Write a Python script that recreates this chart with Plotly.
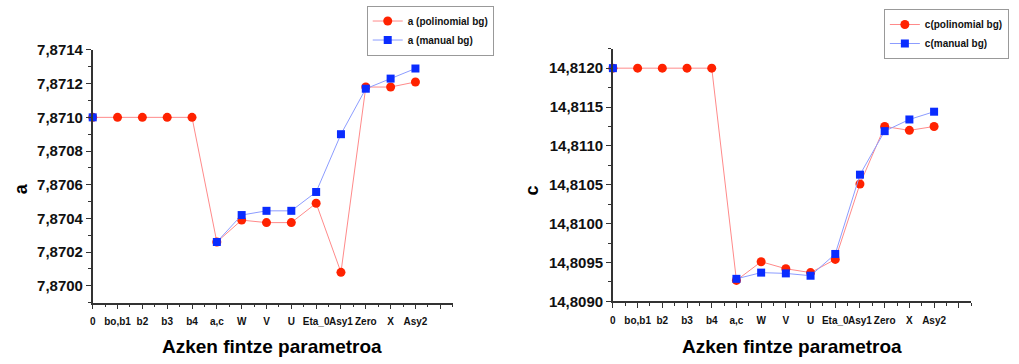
import plotly.graph_objects as go

# Refinement parameters on the x axis
categories = ["0", "bo,b1", "b2", "b3", "b4", "a,c", "W", "V", "U",
              "Eta_0", "Asy1", "Zero", "X", "Asy2"]

# Lattice parameter a
a_polinomial = [7.8710, 7.8710, 7.8710, 7.8710, 7.8710, 7.87026, 7.87039,
                7.870375, 7.870375, 7.87049, 7.87008, 7.87118, 7.87118, 7.87121]
a_manual = [7.8710, None, None, None, None, 7.87026, 7.87042,
            7.870445, 7.870445, 7.870557, 7.87090, 7.87117, 7.87123, 7.87129]

# Lattice parameter c
c_polinomial = [14.8120, 14.8120, 14.8120, 14.8120, 14.8120, 14.80927, 14.80951,
                14.80942, 14.80937, 14.80954, 14.81051, 14.81125, 14.81120, 14.81125]
c_manual = [14.8120, None, None, None, None, 14.80929, 14.80937,
            14.80936, 14.80933, 14.80961, 14.81063, 14.81119, 14.81134, 14.81144]

legend_a = ["a (polinomial bg)", "a (manual bg)"]
legend_c = ["c(polinomial bg)", "c(manual bg)"]

xpos = list(range(len(categories)))

RED_LINE = "#ff8a8a"
RED_MARK = "#ff2200"
BLUE_LINE = "#8c9cff"
BLUE_MARK = "#0a2cff"
FONT = "Liberation Sans"

fig = go.Figure()


def add_pair(poly, manual, names, xa, ya, legend):
    fig.add_trace(go.Scatter(
        x=xpos, y=poly, name=names[0], mode="lines+markers",
        line=dict(color=RED_LINE, width=1),
        marker=dict(symbol="circle", size=9, color=RED_MARK),
        xaxis=xa, yaxis=ya, legend=legend, cliponaxis=False))
    fig.add_trace(go.Scatter(
        x=xpos, y=manual, name=names[1], mode="lines+markers",
        line=dict(color=BLUE_LINE, width=1),
        marker=dict(symbol="square", size=8, color=BLUE_MARK),
        xaxis=xa, yaxis=ya, legend=legend, cliponaxis=False,
        connectgaps=False))


add_pair(a_polinomial, a_manual, legend_a, "x", "y", "legend")
add_pair(c_polinomial, c_manual, legend_c, "x2", "y2", "legend2")

tickvals = xpos + [len(categories)]
ticktext = categories + [""]

xaxis_common = dict(
    range=[0, 14.5], showline=True, linecolor="#333", linewidth=1.5,
    showgrid=False, zeroline=False, ticks="outside", ticklen=5,
    tickcolor="#333", tickwidth=1.2, tickangle=0, ticklabelstandoff=4,
    tickvals=tickvals, ticktext=ticktext,
    tickfont=dict(family=FONT, size=10, color="#111", weight="bold"),
    minor=dict(ticks="outside", ticklen=3, dtick=0.5, tick0=0,
               tickcolor="#333", showgrid=False),
)

yaxis_common = dict(
    showline=True, linecolor="#333", linewidth=1.5,
    showgrid=False, zeroline=False, ticks="outside", ticklen=5,
    tickcolor="#333", tickwidth=1.2, tickformat=".4f",
    tickfont=dict(family=FONT, size=15, color="#111", weight="bold"),
)

legend_common = dict(
    xanchor="left", yanchor="top",
    bgcolor="white", bordercolor="#999", borderwidth=1,
    font=dict(family=FONT, size=10, color="#111", weight="bold"),
    itemwidth=30, tracegroupgap=0,
)

fig.update_layout(
    width=1019, height=364,
    margin=dict(l=0, r=0, t=0, b=0),
    paper_bgcolor="white", plot_bgcolor="white",
    separators=",.",
    font=dict(family=FONT, color="#111"),
    xaxis=dict(domain=[0.0883, 0.4426], anchor="y", **xaxis_common),
    yaxis=dict(domain=[0.1538, 0.8819], anchor="x",
               range=[7.86990, 7.87140], dtick=0.0002, tick0=7.8700,
               minor=dict(ticks="outside", ticklen=3, dtick=0.0001,
                          tickcolor="#333", showgrid=False),
               **yaxis_common),
    xaxis2=dict(domain=[0.6003, 0.9529], anchor="y2", **xaxis_common),
    yaxis2=dict(domain=[0.1574, 0.8855], anchor="x2",
                range=[14.8090, 14.81225], dtick=0.0005, tick0=14.8090,
                minor=dict(ticks="outside", ticklen=3, dtick=0.00025,
                           tickcolor="#333", showgrid=False),
                **yaxis_common),
    legend=dict(x=0.358, y=1.01, **legend_common),
    legend2=dict(x=0.867, y=1.0, **legend_common),
    showlegend=True,
)

# Axis titles
title_font = dict(family=FONT, size=19, color="#000", weight="bold")
fig.add_annotation(text="Azken fintze parametroa", xref="paper", yref="paper",
                   x=270 / 1019, y=1 - 354 / 364, showarrow=False,
                   font=title_font, xanchor="center", yanchor="middle")
fig.add_annotation(text="Azken fintze parametroa", xref="paper", yref="paper",
                   x=791 / 1019, y=1 - 354 / 364, showarrow=False,
                   font=title_font, xanchor="center", yanchor="middle")
fig.add_annotation(text="a", xref="paper", yref="paper",
                   x=18 / 1019, y=1 - 188 / 364, showarrow=False, textangle=-90,
                   font=dict(family=FONT, size=18, color="#000", weight="bold"),
                   xanchor="center", yanchor="middle")
fig.add_annotation(text="c", xref="paper", yref="paper",
                   x=531 / 1019, y=1 - 190 / 364, showarrow=False, textangle=-90,
                   font=dict(family=FONT, size=18, color="#000", weight="bold"),
                   xanchor="center", yanchor="middle")

fig.write_html("out.html")
